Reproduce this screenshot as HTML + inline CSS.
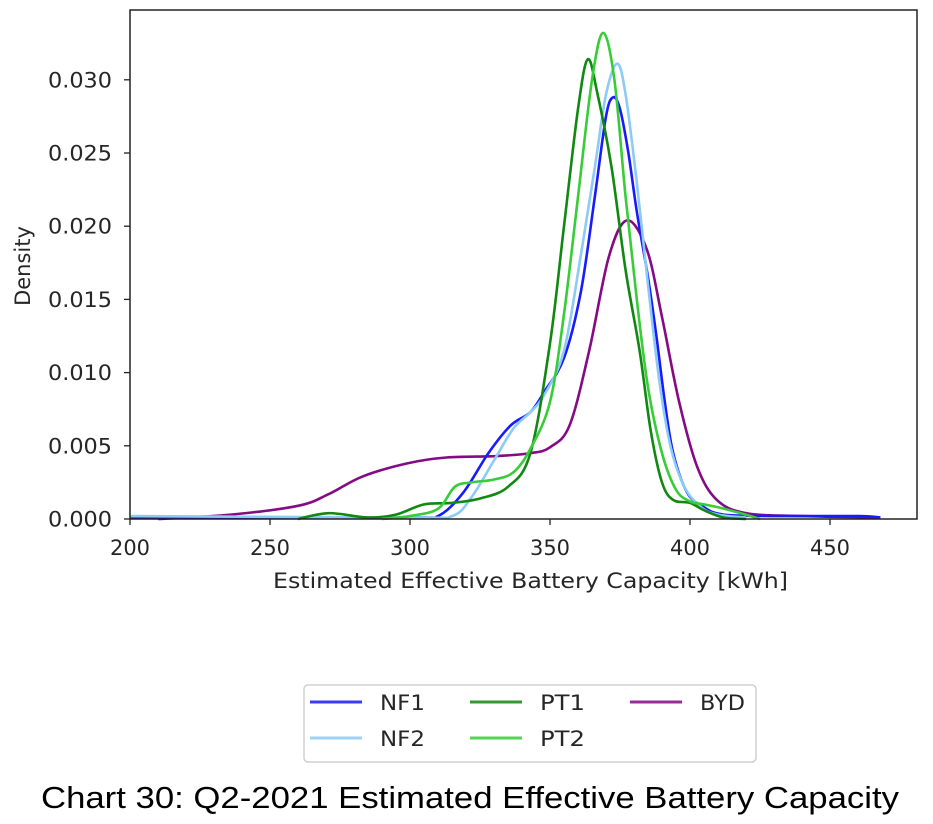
<!DOCTYPE html>
<html><head><meta charset="utf-8"><style>
body{margin:0;background:#fff;width:933px;height:819px;overflow:hidden}
svg text{font-family:"DejaVu Sans","Liberation Sans",sans-serif;fill:#262626}
</style></head><body>
<svg id="chart" width="933" height="819" xmlns="http://www.w3.org/2000/svg">
<g id="plot"></g>
<g id="axes"></g>
<text x="273" y="588" font-size="21" textLength="515" lengthAdjust="spacingAndGlyphs">Estimated Effective Battery Capacity [kWh]</text>
<text x="30" y="266" font-size="21" text-anchor="middle" transform="rotate(-90 30 266)">Density</text>
<g>
<rect x="304" y="685" width="452" height="77" rx="4" fill="#fff" stroke="#d0d0d0" stroke-width="1.5"/>
</g>
<g id="legend-items"></g>
<text x="41" y="808" font-size="31" textLength="858" lengthAdjust="spacingAndGlyphs" style="font-family:'Liberation Sans',sans-serif;fill:#000">Chart 30: Q2-2021 Estimated Effective Battery Capacity</text>
</svg>
<script>
const xTicks=[200,250,300,350,400,450];
const yTicks=[0,0.005,0.010,0.015,0.020,0.025,0.030];
const yTickLabels=["0.000","0.005","0.010","0.015","0.020","0.025","0.030"];
const seriesNames=["NF1","NF2","PT1","PT2","BYD"];
const nf1X=[200,300,310,319,328,336,343,348,355,361,366,370,372.5,375,378,381,385,388,391,394,399,405,412,430,460,468];
const nf1Y=[0.0001,0.0001,0.0002,0.0018,0.0045,0.0064,0.0073,0.0087,0.011,0.0155,0.022,0.0275,0.0288,0.028,0.025,0.021,0.0165,0.0125,0.008,0.0045,0.0018,0.0008,0.0003,0.0002,0.0002,0.0001];
const nf2X=[200,300,315,322,330,337,343,348,355,361,366,370,374,377,381,385,389,393,398,404,410,420];
const nf2Y=[0.0002,0.0001,0.0002,0.0015,0.004,0.0062,0.0073,0.0085,0.0115,0.018,0.024,0.029,0.0311,0.029,0.023,0.016,0.0095,0.005,0.0022,0.0008,0.0003,0.0001];
const pt1X=[260,271,285,295,305,315,325,335,343,350,355,360,363.5,367,372,377,382,386,390,394,400,405,412,420];
const pt1Y=[0,0.0004,0.0001,0.0003,0.001,0.0011,0.0014,0.0022,0.0045,0.012,0.02,0.028,0.0314,0.029,0.024,0.017,0.0115,0.006,0.0025,0.0013,0.0011,0.0006,0.0001,0];
const pt2X=[290,300,310,316,322,330,337,343,350,355,360,365,369,373,377,381,385,390,395,400,405,410,418,425];
const pt2Y=[0,0.0002,0.0007,0.0022,0.0025,0.0027,0.0032,0.0048,0.008,0.014,0.022,0.03,0.0332,0.03,0.022,0.015,0.009,0.0045,0.002,0.0012,0.001,0.0008,0.0004,0];
const bydX=[210,236,260,271,283,299,313,331,343,350,357,364,371,377.5,384.6,390,396,402.5,409.6,420,440,468];
const bydY=[0,0.0003,0.0009,0.0017,0.0029,0.0038,0.0042,0.0043,0.0045,0.0049,0.0064,0.0115,0.0179,0.0204,0.0184,0.0138,0.0081,0.0036,0.0013,0.0004,0.0002,0.0001];
const colors=["#1a1aff","#8ccbf5","#118811","#38cc38","#850a85"];
const xs=[nf1X,nf2X,pt1X,pt2X,bydX], ys=[nf1Y,nf2Y,pt1Y,pt2Y,bydY];
const L=130,R=917,T=10,B=519;
const xScale=v=>L+(v-200)*140/50;
const yScale=v=>B-v*73.2/0.005;
const NS="http://www.w3.org/2000/svg";
function mk(tag,attrs,parent){const e=document.createElementNS(NS,tag);for(const k in attrs)e.setAttribute(k,attrs[k]);parent.appendChild(e);return e;}
function pathFor(X,Y){
  const p=X.map((x,i)=>[xScale(x),yScale(Y[i])]);
  let d="M"+p[0][0]+","+p[0][1];
  for(let i=0;i<p.length-1;i++){
    const p0=p[i-1]||p[i],p1=p[i],p2=p[i+1],p3=p[i+2]||p2;
    let c1y=p1[1]+(p2[1]-p0[1])/6,c2y=p2[1]-(p3[1]-p1[1])/6;
    c1y=Math.min(c1y,B);c2y=Math.min(c2y,B);
    d+=" C"+(p1[0]+(p2[0]-p0[0])/6)+","+c1y+" "+(p2[0]-(p3[0]-p1[0])/6)+","+c2y+" "+p2[0]+","+p2[1];
  }
  return d;
}
const plot=document.getElementById("plot");
const order=[4,0,1,2,3];
order.forEach(i=>{
  const el=mk("path",{d:pathFor(xs[i],ys[i]),fill:"none",stroke:colors[i],"stroke-width":2.6,"stroke-linejoin":"round"},plot);
  
  
});
const axes=document.getElementById("axes");
const frame=mk("rect",{x:L,y:T,width:R-L,height:B-T,fill:"none",stroke:"#222","stroke-width":1.5},axes);


xTicks.forEach(v=>{
  const x=xScale(v);
  const t=mk("line",{x1:x,x2:x,y1:B,y2:B+6,stroke:"#222","stroke-width":1.3},axes);
  
  
  const lb=mk("text",{x:x-20,y:B+36,"font-size":21,textLength:40,lengthAdjust:"spacingAndGlyphs"},axes);
  lb.textContent=v;
  
  
});
yTicks.forEach((v,i)=>{
  const y=yScale(v);
  const t=mk("line",{x1:L-6,x2:L,y1:y,y2:y,stroke:"#222","stroke-width":1.3},axes);
  
  
  const lb=mk("text",{x:48,y:y+7.5,"font-size":21,textLength:64,lengthAdjust:"spacingAndGlyphs"},axes);
  lb.textContent=yTickLabels[i];
  
  
});
const lg=document.getElementById("legend-items");
const pos=[[310,702],[310,738],[470,702],[470,738],[630,702]];
seriesNames.forEach((n,i)=>{
  const [x,y]=pos[i];
  const ln=mk("line",{x1:x,x2:x+52,y1:y,y2:y,stroke:colors[i],"stroke-width":3,opacity:0.85},lg);
  
  
  const tx=mk("text",{x:x+70,y:y+8,"font-size":21,textLength:n.length*15,lengthAdjust:"spacingAndGlyphs"},lg);
  tx.textContent=n;
  
  
});
</script>
</body></html>
